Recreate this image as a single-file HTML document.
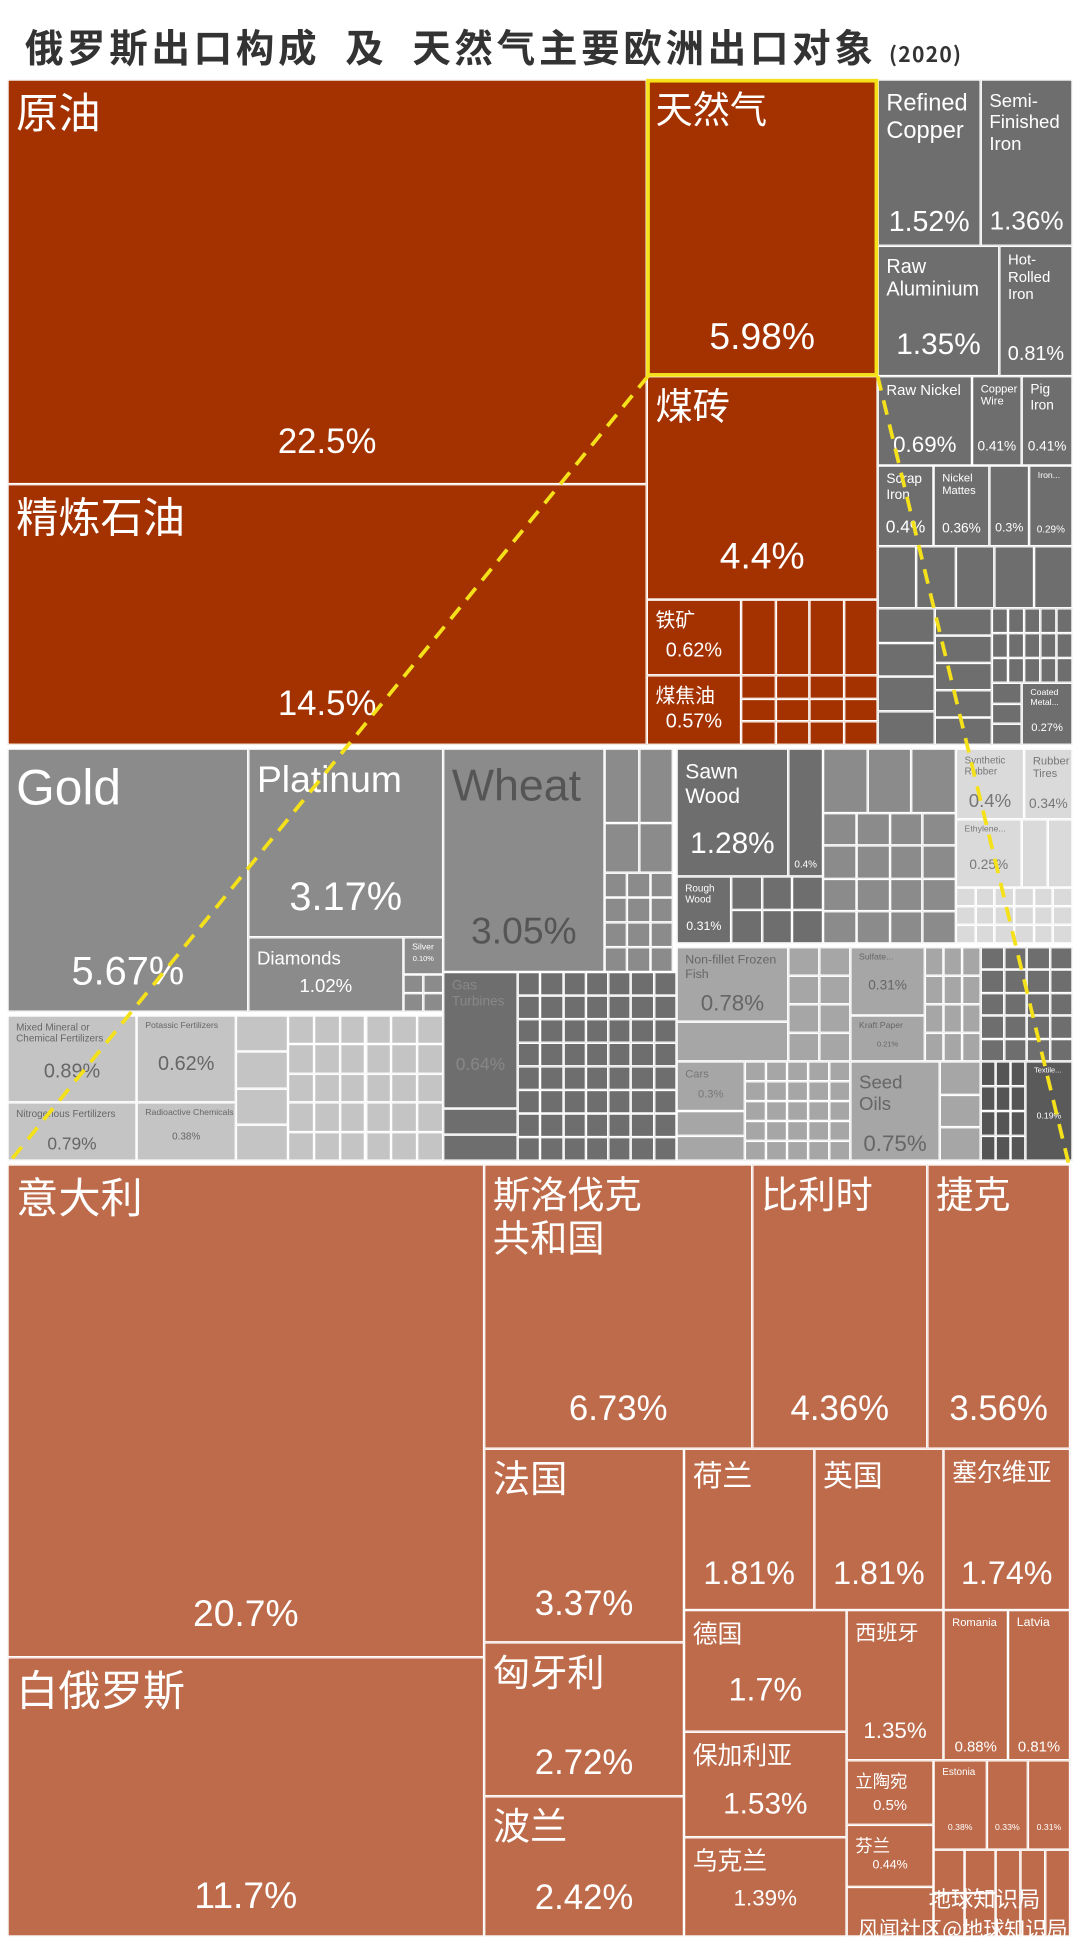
<!DOCTYPE html>
<html><head><meta charset="utf-8">
<style>
html,body{margin:0;padding:0;background:#fff;width:1080px;height:1947px;overflow:hidden}
#wrap{position:absolute;left:0;top:0;width:870px;height:1568px;transform:scale(1.24138);transform-origin:0 0;font-family:"Liberation Sans","Noto Sans CJK SC",sans-serif}
.c{position:absolute;box-sizing:border-box;border:1px solid #fff;overflow:hidden;color:#fff}
.c .n{position:absolute;left:6px;top:8px;line-height:1.15;white-space:pre}
.c .v{position:absolute;left:0;right:0;text-align:center}
#title{position:absolute;left:20px;top:14px;font-size:31px;font-weight:bold;color:#333;letter-spacing:3px;white-space:pre;font-family:"Noto Sans CJK SC","WenQuanYi Zen Hei",sans-serif}
#title span{font-size:17px;letter-spacing:1px}
</style></head><body>
<div id="wrap">
<div id="title">俄罗斯出口构成  及  天然气主要欧洲出口对象 <span>(2020)</span></div>
<div id="cells"></div>
<svg id="lines" width="870" height="1568" style="position:absolute;left:0;top:0"></svg>
</div>
<script>
// data: labels and share values
const exportNames=["原油","精炼石油","天然气","煤砖","铁矿","煤焦油","Refined\nCopper","Semi-\nFinished\nIron","Raw\nAluminium","Hot-\nRolled\nIron","Raw Nickel","Copper\nWire","Pig\nIron","Scrap\nIron","Nickel\nMattes","","Iron...","Gold","Platinum","Diamonds","Silver","Wheat","Sawn\nWood","Rough\nWood","Mixed Mineral or\nChemical Fertilizers","Nitrogenous Fertilizers","Potassic Fertilizers","Radioactive Chemicals","Non-fillet Frozen\nFish","Gas\nTurbines","Cars","Seed\nOils","Synthetic\nRubber","Rubber\nTires","Ethylene...","Sulfate...","Kraft Paper","Textile..."];
const exportValues=["22.5%","14.5%","5.98%","4.4%","0.62%","0.57%","1.52%","1.36%","1.35%","0.81%","0.69%","0.41%","0.41%","0.4%","0.36%","0.3%","0.29%","5.67%","3.17%","1.02%","0.10%","3.05%","1.28%","0.31%","0.89%","0.79%","0.62%","0.38%","0.78%","0.64%","0.3%","0.75%","0.4%","0.34%","0.25%","0.31%","0.21%","0.19%"];
const gasNames=["意大利","白俄罗斯","斯洛伐克\n共和国","比利时","捷克","法国","匈牙利","波兰","荷兰","英国","塞尔维亚","德国","保加利亚","乌克兰","西班牙","Romania","Latvia","立陶宛","芬兰","Estonia","",""];
const gasValues=["20.7%","11.7%","6.73%","4.36%","3.56%","3.37%","2.72%","2.42%","1.81%","1.81%","1.74%","1.7%","1.53%","1.39%","1.35%","0.88%","0.81%","0.5%","0.44%","0.38%","0.33%","0.31%"];
</script>
<script>
const host=document.getElementById('cells');
function cell(x,y,w,h,bg,name,val,ns,vs,vy,col,label){
  const d=document.createElement('div');
  d.className='c';
  d.style.cssText=`left:${x}px;top:${y}px;width:${w}px;height:${h}px;background:${bg};`+(col?`color:${col};`:'');
  
  
  if(name){const n=document.createElement('div');n.className='n';n.style.fontSize=ns+'px';if(ns<14)n.style.top='4px';n.textContent=name;d.appendChild(n);}
  if(val){const v=document.createElement('div');v.className='v';v.style.fontSize=vs+'px';v.style.top=vy+'px';v.textContent=val;d.appendChild(v);}
  host.appendChild(d);
}
function grid(x,y,w,h,cols,rows,bg){
  const cw=w/cols,rh=h/rows;
  for(let i=0;i<cols;i++)for(let j=0;j<rows;j++){
    const d=document.createElement('div');d.className='c';
    d.style.cssText=`left:${x+i*cw}px;top:${y+j*rh}px;width:${cw}px;height:${rh}px;background:${bg};`;
    
    
    host.appendChild(d);
  }
}
const R='#a33200',B='#bd6b4a',G1='#6e6e6e',G2='#8b8b8b',G3='#a6a6a6',G4='#c4c4c4',G5='#dadada';
const E=exportNames,V=exportValues;
// top section
cell(6,64,515,326,R,E[0],V[0],34,28,275,null,'crude-oil');
cell(6,390,515,210,R,E[1],V[1],34,28,160,null,'refined-petroleum');
cell(521,64,186,239,R,E[2],V[2],30,30,190,null,'natural-gas');
cell(521,303,186,180,R,E[3],V[3],30,30,128,null,'coal-briquettes');
cell(521,483,76,61,R,E[4],V[4],16,16,32,null,'iron-ore');
cell(521,544,76,56,R,E[5],V[5],16,16,28,null,'coal-tar');
grid(597,483,110,61,4,1,R);grid(597,544,110,56,4,3,R);
cell(707,64,83,134,G1,E[6],V[6],19,23,100,null,'refined-copper');
cell(790,64,74,134,G1,E[7],V[7],15,21,102,null,'semi-finished-iron');
cell(707,198,98,105,G1,E[8],V[8],16,24,65,null,'raw-aluminium');
cell(805,198,59,105,G1,E[9],V[9],12,16,78,null,'hot-rolled-iron');
cell(707,303,76,72,G1,E[10],V[10],12,18,44,null,'raw-nickel');
cell(783,303,40,72,G1,E[11],V[11],9,11,50,null,'copper-wire');
cell(823,303,41,72,G1,E[12],V[12],11,11,50,null,'pig-iron');
cell(707,375,45,65,G1,E[13],V[13],11,14,40,null,'scrap-iron');
cell(752,375,45,65,G1,E[14],V[14],9,11,44,null,'nickel-mattes');
cell(797,375,32,65,G1,E[15],V[15],9,10,44,null,'cell-0-3');
cell(829,375,35,65,G1,E[16],V[16],7,8,46,null,'iron-cell');
grid(707,440,157,50,5,1,G1);grid(707,490,46,110,1,4,G1);grid(753,490,46,110,1,5,G1);grid(799,490,65,60,5,3,G1);grid(799,550,24,50,1,3,G1);
cell(823,550,41,50,G1,'Coated\nMetal...','0.27%',7,9,30,null,'coated-metal');
// middle section
cell(6,603,194,212,G2,E[17],V[17],40,32,160,null,'gold');
cell(200,603,157,152,G2,E[18],V[18],30,32,100,null,'platinum');
cell(200,755,125,60,G2,E[19],V[19],15,15,30,null,'diamonds');
cell(325,755,32,30,G2,E[20],V[20],7,6,14,null,'silver');grid(325,785,32,30,2,2,G2);
cell(357,603,130,180,G2,E[21],V[21],36,30,130,'#555','wheat');
grid(487,603,55,60,2,1,G2);grid(487,663,55,40,2,1,G2);grid(487,703,55,80,3,4,G2);
cell(545,603,90,103,G1,E[22],V[22],17,24,62,null,'sawn-wood');
cell(635,603,28,103,G1,'','0.4%',8,8,88,null,'small-wood');
cell(545,706,44,54,G1,E[23],V[23],8,10,34,null,'rough-wood');grid(589,706,74,54,3,2,G1);
grid(663,603,107,52,3,1,G2);grid(663,655,107,105,4,4,G2);
cell(770,603,55,57,G5,E[32],V[32],8,15,33,'#777','synthetic-rubber');
cell(825,603,39,57,G5,E[33],V[33],9,11,38,'#777','rubber-tires');
cell(770,660,53,55,G5,E[34],V[34],7,11,30,'#777','ethylene');grid(823,660,41,55,2,1,G5);grid(770,715,94,45,6,3,G5);
cell(6,818,104,70,G4,E[24],V[24],8,16,36,'#666','mixed-fertilizers');
cell(6,888,104,47,G4,E[25],V[25],8,14,24,'#666','nitrogenous-fertilizers');
cell(110,818,80,70,G4,E[26],V[26],7,16,30,'#666','potassic-fertilizers');
cell(110,888,80,47,G4,E[27],V[27],7,8,22,'#666','radioactive-chemicals');
grid(190,818,42,117,1,4,G4);grid(232,818,125,117,6,5,G4);
cell(545,763,90,60,G3,E[28],V[28],10,18,34,'#666','frozen-fish');grid(635,763,50,92,2,4,G3);grid(545,823,90,32,1,1,G3);
cell(685,763,60,55,G3,E[35],V[35],7,11,24,'#666','sulfate');cell(685,818,60,37,G3,E[36],V[36],7,6,20,'#666','kraft-paper');grid(745,763,45,92,3,4,G3);
grid(790,763,74,92,4,5,G1);
cell(357,783,60,110,G1,E[29],V[29],11,14,65,'#888','gas-turbines');grid(357,893,60,42,1,2,G1);grid(417,783,128,152,7,8,G1);
cell(545,855,55,40,G3,E[30],V[30],9,9,20,'#777','cars');grid(545,895,55,40,1,2,G3);grid(600,855,85,80,5,5,G3);
cell(685,855,72,80,G3,E[31],V[31],15,18,55,'#666','seed-oils');grid(757,855,33,80,1,3,G3);
grid(790,855,36,80,3,4,'#555');cell(826,855,38,80,'#5a5a5a',E[37],V[37],6,7,40,null,'textiles');
// bottom section
const N=gasNames,W=gasValues;
const bs=[[6,938,384,397,34,30,345],[6,1335,384,225,34,30,175],[390,938,216,229,30,28,180],[606,938,141,229,30,28,180],[747,938,115,229,30,28,180],[390,1167,161,156,30,28,108],[390,1323,161,124,30,28,80],[390,1447,161,113,30,28,65],[551,1167,105,130,24,26,84],[656,1167,104,130,24,26,84],[760,1167,102,130,20,26,84],[551,1297,131,98,20,26,48],[551,1395,131,85,20,24,44],[551,1480,131,80,20,18,38],[682,1297,78,121,17,18,86],[760,1297,52,121,9,12,102],[812,1297,50,121,10,12,102],[682,1418,70,52,14,12,28],[682,1470,70,50,14,10,26],[752,1418,43,72,8,7,50],[795,1418,33,72,8,7,50],[828,1418,34,72,7,7,50]];
const gn=['italy','belarus','slovakia','belgium','czech','france','hungary','poland','netherlands','uk','serbia','germany','bulgaria','ukraine','spain','romania','latvia','lithuania','finland','estonia','small-country','north-macedonia'];
bs.forEach((b,i)=>cell(b[0],b[1],b[2],b[3],B,N[i],W[i],b[4],b[5],b[6],null,'country-'+gn[i]));
grid(752,1490,50,70,2,2,B);grid(802,1490,60,70,3,1,B);grid(682,1520,70,40,1,1,B);
// lines
const s=document.getElementById('lines');
s.innerHTML='<rect x="522" y="65" width="184" height="237" fill="none" stroke="#f5e11a" stroke-width="3"/>'+
'<line x1="522" y1="303" x2="6" y2="938" stroke="#f5e11a" stroke-width="3" stroke-dasharray="12,8"/>'+
'<line x1="707" y1="303" x2="861" y2="938" stroke="#f5e11a" stroke-width="3" stroke-dasharray="12,8"/>'+
'<text x="860" y="1560" text-anchor="end" font-size="17" fill="#fff" font-family="Noto Sans CJK SC,sans-serif">风闻社区@地球知识局</text>'+
'<text x="838" y="1536" text-anchor="end" font-size="18" fill="#fff" font-family="Noto Sans CJK SC,sans-serif">地球知识局</text>';
</script>
</body></html>
